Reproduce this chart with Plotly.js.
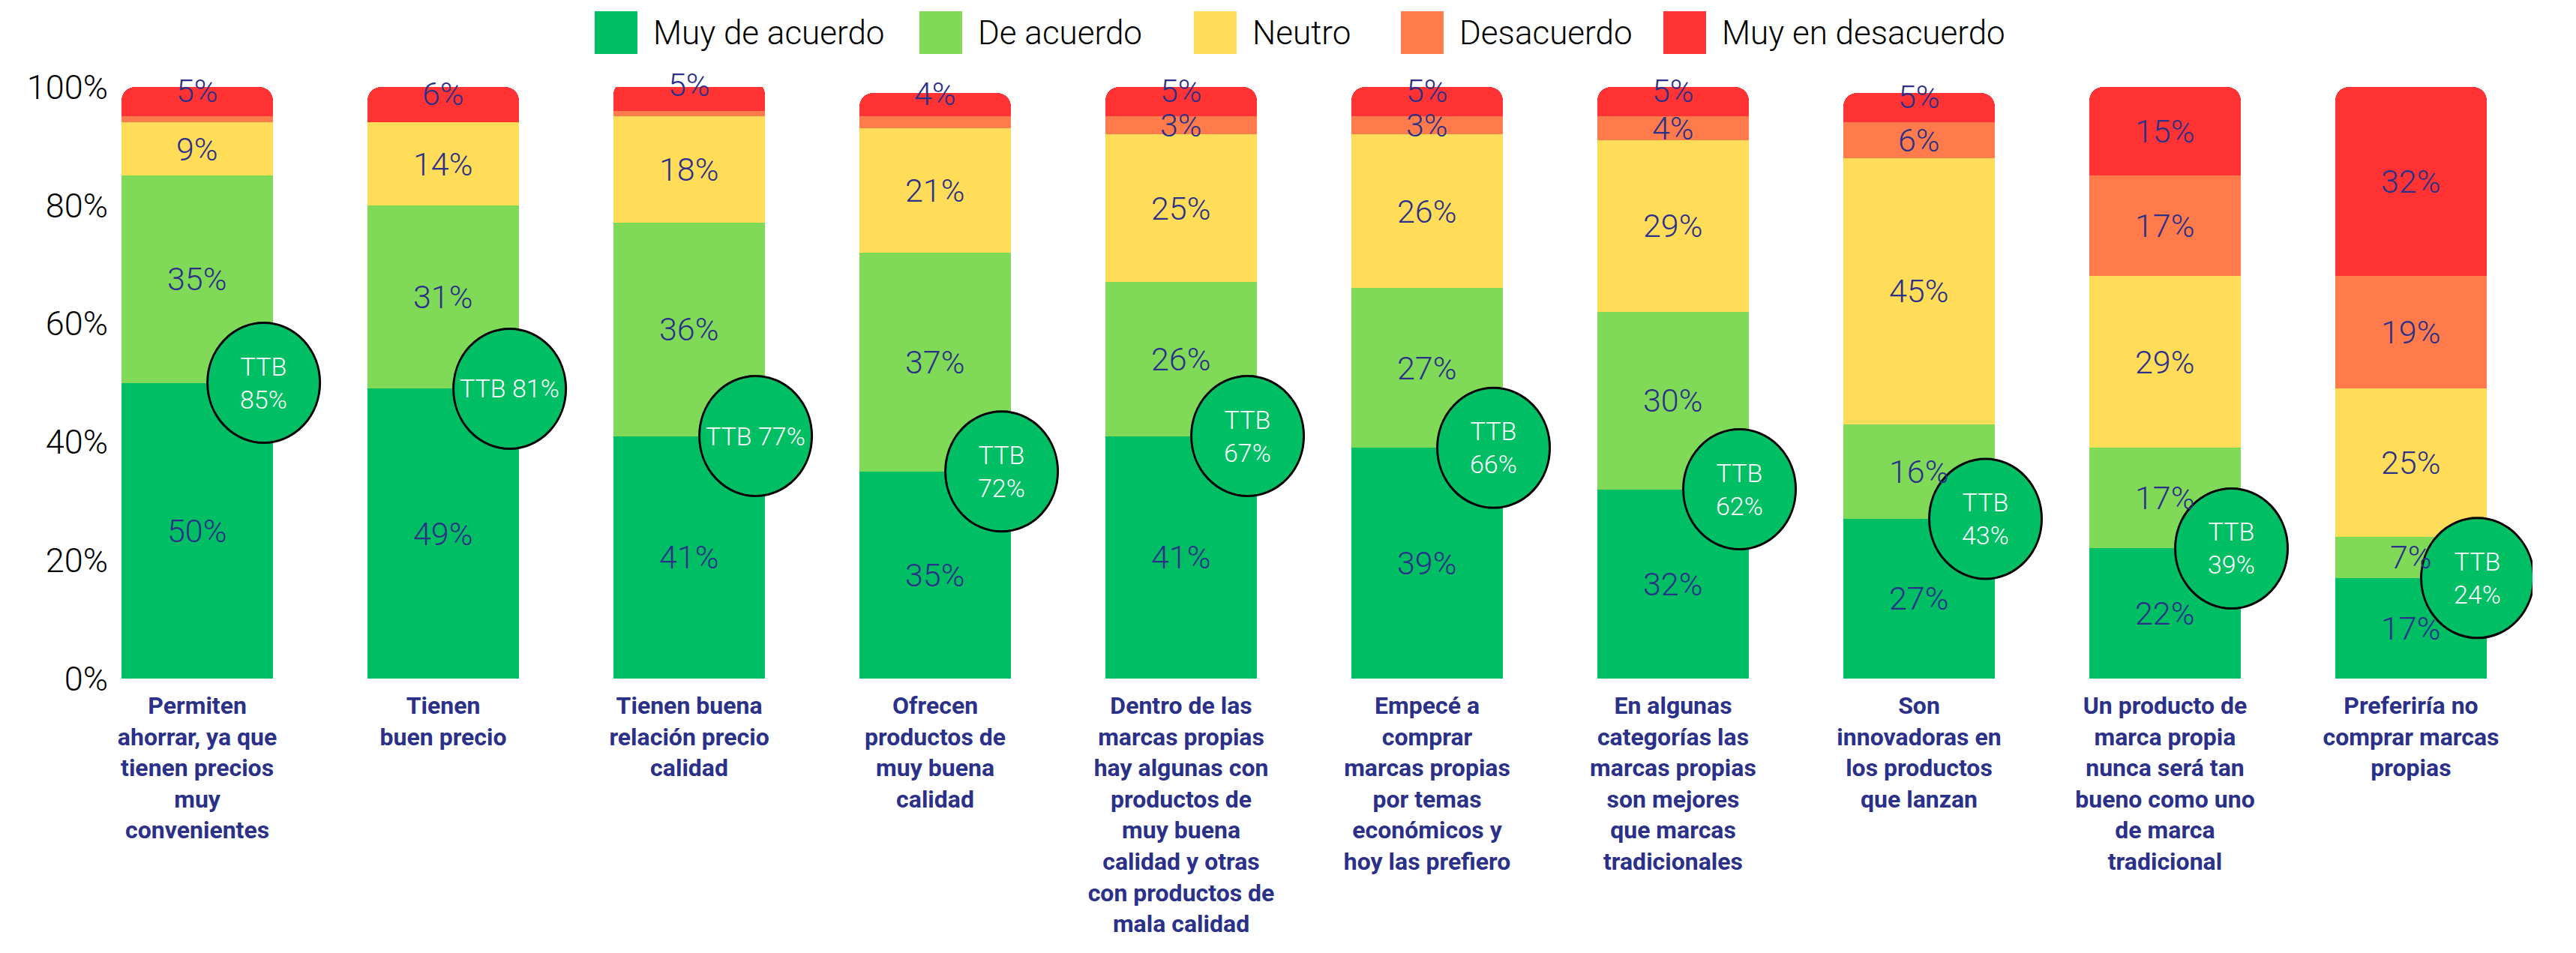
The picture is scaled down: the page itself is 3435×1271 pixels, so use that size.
<!DOCTYPE html>
<html>
<head>
<meta charset="utf-8">
<script src="https://cdn.plot.ly/plotly-3.0.1.min.js"></script>
<style>
  body { margin: 0; background: #fff; }
  #plot { width: 3435px; height: 1271px; }
</style>
</head>
<body>
<div id="plot"></div>
<script>
// statements (x axis)
var categories = [
  "Permiten<br>ahorrar, ya que<br>tienen precios<br>muy<br>convenientes",
  "Tienen<br>buen precio",
  "Tienen buena<br>relación precio<br>calidad",
  "Ofrecen<br>productos de<br>muy buena<br>calidad",
  "Dentro de las<br>marcas propias<br>hay algunas con<br>productos de<br>muy buena<br>calidad y otras<br>con productos de<br>mala calidad",
  "Empecé a<br>comprar<br>marcas propias<br>por temas<br>económicos y<br>hoy las prefiero",
  "En algunas<br>categorías las<br>marcas propias<br>son mejores<br>que marcas<br>tradicionales",
  "Son<br>innovadoras en<br>los productos<br>que lanzan",
  "Un producto de<br>marca propia<br>nunca será tan<br>bueno como uno<br>de marca<br>tradicional",
  "Preferiría no<br>comprar marcas<br>propias"
];

// answers, bottom to top of each bar
var muyDeAcuerdo    = [50, 49, 41, 35, 41, 39, 32, 27, 22, 17];
var deAcuerdo       = [35, 31, 36, 37, 26, 27, 30, 16, 17, 7];
var neutro          = [9, 14, 18, 21, 25, 26, 29, 45, 29, 25];
var desacuerdo      = [1, 0, 1, 2, 3, 3, 4, 6, 17, 19];
var muyEnDesacuerdo = [5, 6, 5, 4, 5, 5, 5, 5, 15, 32];

// top two box
var ttb = [85, 81, 77, 72, 67, 66, 62, 43, 39, 24];
var ttbOneLine = [false, true, true, false, false, false, false, false, false, false];

var seriesNames = ["Muy de acuerdo", "De acuerdo", "Neutro", "Desacuerdo", "Muy en desacuerdo"];
var seriesValues = [muyDeAcuerdo, deAcuerdo, neutro, desacuerdo, muyEnDesacuerdo];
var colors = ["#00BE63", "#80DA58", "#FFDD59", "#FF7B4B", "#FF3333"];

var navy = "#2B3088";
var font = "Roboto, 'Liberation Sans', sans-serif";

var data = seriesValues.map(function (vals, k) {
  return {
    x: categories,
    y: vals,
    name: seriesNames[k],
    type: "bar",
    marker: { color: colors[k], line: { width: 0 } },
    hoverinfo: "skip",
    showlegend: false
  };
});

var shapes = [];
var annotations = [];

// value labels in the middle of each segment (small slices stay unlabelled)
var base = categories.map(() => 0);
seriesValues.forEach(function (vals, k) {
  vals.forEach(function (v, i) {
    if (v >= 3) {
      annotations.push({
        x: i, y: base[i] + v / 2, xref: "x", yref: "y",
        // thin top slices: label sits on the top edge like the original
        yshift: k === seriesValues.length - 1 && v < 10 ? 15 : 0,
        text: v + "%", showarrow: false,
        font: { family: font, size: 43, color: navy, weight: 300 }
      });
    }
    base[i] += v;
  });
});

// TTB bubbles sit on the right edge of each bar, at the top of "Muy de acuerdo"
categories.forEach(function (c, i) {
  shapes.push({
    type: "circle", xref: "x", yref: "y",
    xsizemode: "pixel", ysizemode: "pixel",
    xanchor: i + 0.27, yanchor: muyDeAcuerdo[i],
    x0: -75, x1: 75, y0: -80, y1: 80,
    fillcolor: "#00BE63", line: { color: "#000", width: 3 },
    layer: "above"
  });
  annotations.push({
    x: i + 0.27, y: muyDeAcuerdo[i], xref: "x", yref: "y",
    text: "TTB" + (ttbOneLine[i] ? " " : "<br>") + ttb[i] + "%",
    showarrow: false,
    font: { family: font, size: 34, color: "#fff", weight: 300 }
  });
});

// legend row across the top
var legendX = [793, 1226, 1592, 1868, 2218];
var plotLeft = 145, plotW = 3435 - 145 - 58, plotTop = 116, plotH = 1271 - 116 - 366;
seriesNames.forEach(function (n, k) {
  shapes.push({
    type: "rect", xref: "paper", yref: "paper",
    x0: (legendX[k] - plotLeft) / plotW, x1: (legendX[k] + 57 - plotLeft) / plotW,
    y0: (plotTop + plotH - 72) / plotH, y1: (plotTop + plotH - 15) / plotH,
    fillcolor: colors[k], line: { width: 0 }
  });
  annotations.push({
    xref: "paper", yref: "paper",
    x: (legendX[k] + 76 - plotLeft) / plotW, y: (plotTop + plotH - 44) / plotH,
    xanchor: "left", yanchor: "middle",
    text: n, showarrow: false,
    font: { family: font, size: 44, color: "#000", weight: 300 }
  });
});

var yTicks = [0, 20, 40, 60, 80, 100];

var layout = {
  width: 3435,
  height: 1271,
  barmode: "stack",
  bargap: 0.384,
  barcornerradius: 18,
  paper_bgcolor: "#fff",
  plot_bgcolor: "#fff",
  margin: { l: plotLeft, r: 58, t: plotTop, b: 366 },
  showlegend: false,
  xaxis: {
    range: [-0.36, 9.494],
    showgrid: false, zeroline: false, showline: false,
    ticks: "",
    tickangle: 0,
    ticklabelstandoff: 14,
    tickfont: { family: font, size: 32, color: navy, weight: "bold" },
    automargin: false
  },
  yaxis: {
    range: [0, 100],
    tickvals: yTicks,
    ticktext: yTicks.map(v => v + "%"),
    showgrid: false, zeroline: false, showline: false,
    ticks: "",
    tickfont: { family: font, size: 45, color: "#000", weight: 300 },
    automargin: false
  },
  shapes: shapes,
  annotations: annotations
};

Plotly.newPlot("plot", data, layout, { displayModeBar: false, staticPlot: true });
</script>
</body>
</html>
